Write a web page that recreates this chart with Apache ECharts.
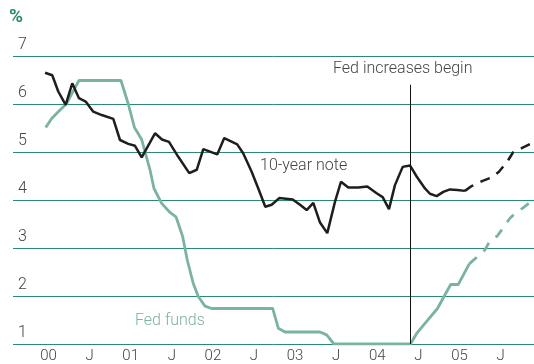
<!DOCTYPE html>
<html>
<head>
<meta charset="utf-8">
<script src="https://cdn.jsdelivr.net/npm/echarts@6/dist/echarts.min.js"></script>
<style>
html,body{margin:0;padding:0;background:#fff;}
#chart{width:534px;height:364px;}
</style>
</head>
<body>
<div id="chart"></div>
<script>
// Months counted from Jan 2000 (0 = Jan 2000)
var noteMonths = [-0.5,0.55,1.43,2.51,3.47,4.45,5.43,6.54,7.77,9.46,10.44,11.65,12.63,13.61,15.55,16.57,17.59,18.95,20.55,21.64,22.6,24.64,25.66,27.56,28.44,29.66,30.63,31.65,32.58,33.69,35.65,36.72,37.69,38.66,39.64,40.7,41.82,42.7,43.77,45.23,46.54,47.91,48.79,49.71,50.58,51.71,52.77,53.75,54.96,55.69,56.67,57.64,58.61,59.68,60.8];
var noteValues = [6.65,6.6,6.26,5.98,6.43,6.12,6.05,5.84,5.77,5.69,5.25,5.17,5.13,4.89,5.39,5.26,5.21,4.9,4.56,4.63,5.06,4.95,5.29,5.16,4.97,4.59,4.24,3.86,3.9,4.04,4.01,3.9,3.79,3.94,3.53,3.31,3.96,4.38,4.26,4.26,4.28,4.14,4.06,3.81,4.31,4.69,4.72,4.49,4.24,4.13,4.08,4.17,4.22,4.21,4.19];
var noteForecastMonths = [60.8,61.78,63.39,64.7,65.77,66.98,67.81,69.08,70.54,70.88];
var noteForecastValues = [4.19,4.29,4.4,4.47,4.59,4.8,4.99,5.08,5.18,5.21];

var fedMonths = [-0.41,0.47,1.43,2.66,3.43,4.45,10.58,11.65,12.55,13.61,14.82,15.4,16.53,17.74,18.61,19.59,20.26,21.14,21.87,22.85,23.82,32.73,33.55,34.53,39.64,40.61,41.68,52.85,53.75,54.72,56.79,57.74,58.72,59.82,61.43];
var fedValues = [5.51,5.7,5.84,6.01,6.22,6.49,6.49,6.0,5.51,5.26,4.63,4.24,3.93,3.74,3.65,3.24,2.75,2.26,1.99,1.79,1.74,1.74,1.33,1.25,1.25,1.19,1.0,1.0,1.22,1.39,1.74,1.99,2.24,2.24,2.67];
var fedForecastMonths = [61.43,63.72,64.45,65.52,67.37,68.25,69.23,70.88];
var fedForecastValues = [2.67,2.96,3.15,3.25,3.62,3.74,3.83,4.02];

var fedIncreaseMonth = 52.85;
var xTickMonths = [0,6,12,18,24,30,36,42,48,54,60,66];
var xTickLabels = ['00','J','01','J','02','J','03','J','04','J','05','J'];
var yTicks = [1,2,3,4,5,6,7];

function pairs(xs, ys){ return xs.map(function(x,i){ return [x, ys[i]]; }); }

var FONT = 'Roboto, "Liberation Sans", sans-serif';
var TXT = '#444';
var TEAL = '#2b8a74';
var FEDC = '#7ab3a2';

var chart = echarts.init(document.getElementById('chart'), null, {renderer:'canvas'});
chart.setOption({
  animation:false,
  backgroundColor:'#fff',
  grid:{left:13,right:0,top:56,bottom:20,containLabel:false},
  xAxis:{
    type:'value', min:-5.18, max:70.88,
    axisLine:{show:false}, axisTick:{show:false}, splitLine:{show:false},
    axisLabel:{
      customValues:xTickMonths,
      formatter:function(v){ var i = xTickMonths.indexOf(Math.round(v)); return i>=0 ? xTickLabels[i] : ''; },
      color:TXT, fontSize:15, fontFamily:FONT, fontWeight:300, margin:5
    }
  },
  yAxis:{
    type:'value', min:yTicks[0], max:yTicks[yTicks.length-1], interval:1,
    axisLine:{show:false}, axisTick:{show:false},
    splitLine:{show:true, lineStyle:{color:TEAL, width:1}},
    axisLabel:{
      inside:true, margin:5, align:'left', verticalAlign:'bottom',
      padding:[0,0,3,0],
      color:TXT, fontSize:16, fontFamily:FONT, fontWeight:300
    }
  },
  series:[
    {type:'line', data:pairs(fedMonths, fedValues), symbol:'none', lineStyle:{color:FEDC, width:2.8}, z:2},
    {type:'line', data:pairs(fedForecastMonths, fedForecastValues), symbol:'none', lineStyle:{color:FEDC, width:2.8, type:[10,9]}, z:2},
    {type:'line', data:pairs(noteMonths, noteValues), symbol:'none', lineStyle:{color:'#1e1e1e', width:2.5}, z:3,
      markLine:{silent:true, symbol:'none', label:{show:false},
        lineStyle:{color:'#111', width:1, type:'solid'},
        data:[[{coord:[fedIncreaseMonth, 6.4]},{coord:[fedIncreaseMonth, 1]}]]}},
    {type:'line', data:pairs(noteForecastMonths, noteForecastValues), symbol:'none', lineStyle:{color:'#1e1e1e', width:2.5, type:[10,8]}, z:3}
  ],
  graphic:[
    {type:'text', left:9, top:8, style:{text:'%', fill:TEAL, font:'bold 19px '+FONT}},
    {type:'text', left:333, top:61, style:{text:'Fed increases begin', fill:TXT, font:'300 16px '+FONT}},
    {type:'text', left:260, top:158, style:{text:'10-year note', fill:TXT, font:'300 16px '+FONT}},
    {type:'text', left:135, top:313, style:{text:'Fed funds', fill:FEDC, font:'300 16px '+FONT}}
  ]
});
</script>
</body>
</html>
